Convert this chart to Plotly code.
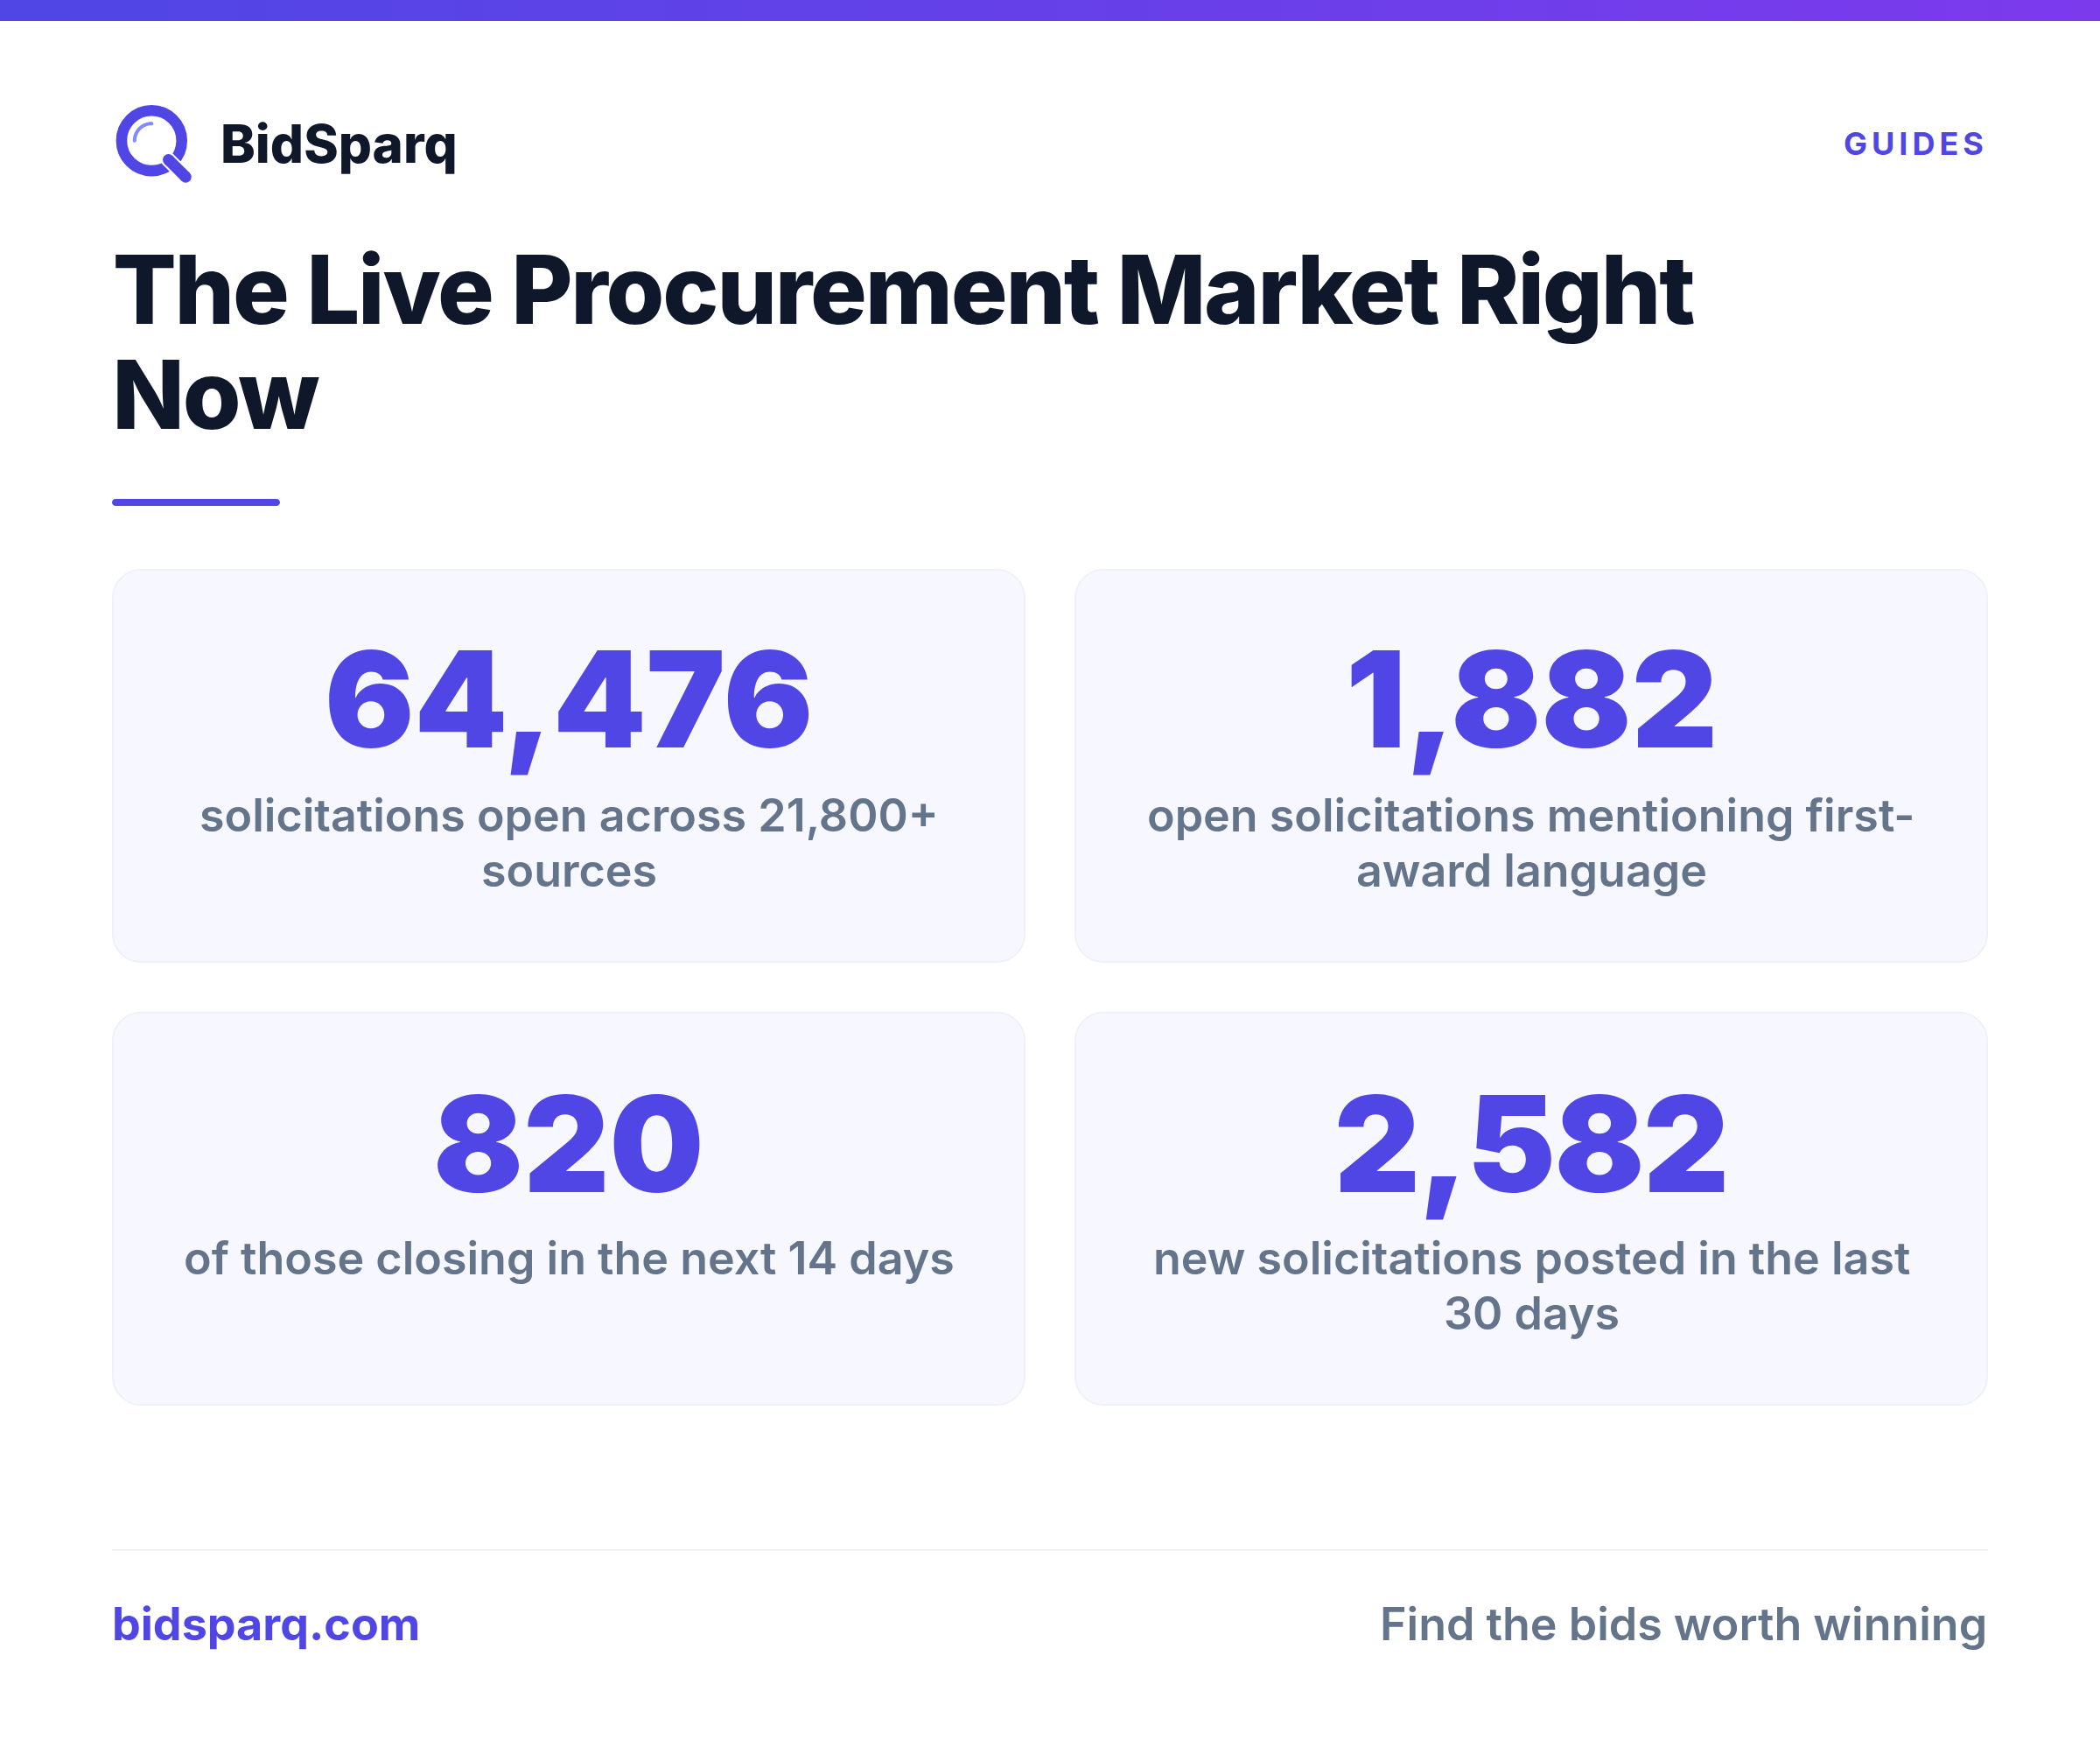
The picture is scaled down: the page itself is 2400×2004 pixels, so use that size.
import math
import plotly.graph_objects as go

W, H = 2400, 2004
INDIGO = "#4f46e5"
VIOLET = "#7c3aed"
INK = "#0f172a"
SLATE = "#64748b"
CARD_FILL = "#f7f8ff"
CARD_LINE = "#eff0f9"

brand = "BidSparq"
tag = "GUIDES"
title_lines = ["The Live Procurement Market Right", "Now"]
stat_values = ["64,476", "1,882", "820", "2,582"]
stat_labels = [
    ["solicitations open across 21,800+", "sources"],
    ["open solicitations mentioning first-", "award language"],
    ["of those closing in the next 14 days"],
    ["new solicitations posted in the last", "30 days"],
]
footer_left = "bidsparq.com"
footer_right = "Find the bids worth winning"

card_x = [128, 1228, 128, 1228]
card_y = [650, 650, 1156, 1156]
stat_tracking = [0, 0, 0, -1.5]
CARD_W, CARD_H, R = 1044, 450, 32


def rrect(x, y, w, h, r):
    k = r * 0.4477
    return (f"M{x+r},{y} L{x+w-r},{y} C{x+w-k},{y} {x+w},{y+k} {x+w},{y+r} "
            f"L{x+w},{y+h-r} C{x+w},{y+h-k} {x+w-k},{y+h} {x+w-r},{y+h} "
            f"L{x+r},{y+h} C{x+k},{y+h} {x},{y+h-k} {x},{y+h-r} "
            f"L{x},{y+r} C{x},{y+k} {x+k},{y} {x+r},{y} Z")


shapes = []
for cx, cy in zip(card_x, card_y):
    shapes.append(dict(type="path", path=rrect(cx + 1, cy + 1, CARD_W - 2, CARD_H - 2, R),
                       fillcolor=CARD_FILL, line=dict(color=CARD_LINE, width=2), layer="below"))

# accent rule and footer divider
shapes.append(dict(type="path", path=rrect(128, 570, 192, 8, 4), fillcolor=INDIGO, line=dict(width=0)))
shapes.append(dict(type="rect", x0=128, x1=2272, y0=1770, y1=1772, fillcolor="#f0f1f9", line=dict(width=0)))

# logo
lx, ly, lr = 173.3, 160.7, 34.4
shapes.append(dict(type="circle", x0=lx - lr, x1=lx + lr, y0=ly - lr, y1=ly + lr,
                   line=dict(color=INDIGO, width=12.6), fillcolor="rgba(0,0,0,0)"))


def stroke(points, width, color):
    d = "M" + " L".join(f"{x:.2f},{y:.2f}" for x, y in points)
    shapes.append(dict(type="path", path=d, line=dict(color=color, width=width), fillcolor="rgba(0,0,0,0)"))
    for x, y in (points[0], points[-1]):
        shapes.append(dict(type="circle", x0=x - width / 2, x1=x + width / 2, y0=y - width / 2, y1=y + width / 2,
                           fillcolor=color, line=dict(width=0)))


stroke([(191.7, 181.7), (205, 195)], 17, "#ffffff")
stroke([(192.5, 182.5), (212.2, 202.2)], 13, INDIGO)
arc = [(lx + 19.5 * math.cos(math.radians(a)), ly + 19.5 * math.sin(math.radians(a))) for a in range(180, 272, 6)]
stroke(arc, 4, "#818cf8")

annotations = []
spacing = []


def text(x, y, s, size, color, weight, anchor="left", ls=0):
    annotations.append(dict(x=x, y=y, xref="x", yref="y", text=s, showarrow=False, xanchor=anchor, yanchor="middle",
                            font=dict(family="Inter", size=size, color=color, weight=weight), borderpad=0))
    spacing.append(ls)


text(250.5, 164, brand, 60, INK, 800)
text(2189, 164, tag, 36, INDIGO, 700, "center", 5)
text(1031.5, 330, title_lines[0], 108, INK, 800, "center", ls=-0.02 * 108)
text(245.5, 450, title_lines[1], 108, INK, 800, "center", ls=-0.02 * 108)

for cx, cy, val, labs, tr in zip(card_x, card_y, stat_values, stat_labels, stat_tracking):
    mid = cx + CARD_W / 2
    num_dy = 149 if cy == 650 else 151
    text(mid, cy + num_dy, val, 152, INDIGO, 900, "center", tr)
    for i, line in enumerate(labs):
        text(mid, cy + 281 + i * 63, line, 52, SLATE, 600, "center")

text(126.5, 1855, footer_left, 52, INDIGO, 700)
text(2272, 1855, footer_right, 52, SLATE, 600, "right")

fig = go.Figure()
fig.add_trace(go.Scatter(x=[0, W, W, 0, 0], y=[0, 0, 24, 24, 0], mode="lines", fill="toself",
                         line=dict(width=0), hoverinfo="skip", showlegend=False,
                         fillgradient=dict(type="horizontal", colorscale=[[0, INDIGO], [1, VIOLET]])))
fig.update_layout(width=W, height=H, margin=dict(l=0, r=0, t=0, b=0), paper_bgcolor="#ffffff", plot_bgcolor="#ffffff",
                  xaxis=dict(range=[0, W], visible=False, fixedrange=True),
                  yaxis=dict(range=[H, 0], visible=False, fixedrange=True),
                  shapes=shapes, annotations=annotations, showlegend=False)

post = ("document.body.style.margin='0';document.documentElement.style.overflow='hidden';"
        "var ls=" + str(spacing) + ";"
        "document.querySelectorAll('.annotation-text').forEach(function(t,i){t.style.letterSpacing=ls[i]+'px';});")
fig.write_html("out.html", post_script=post, config={"displayModeBar": False})
